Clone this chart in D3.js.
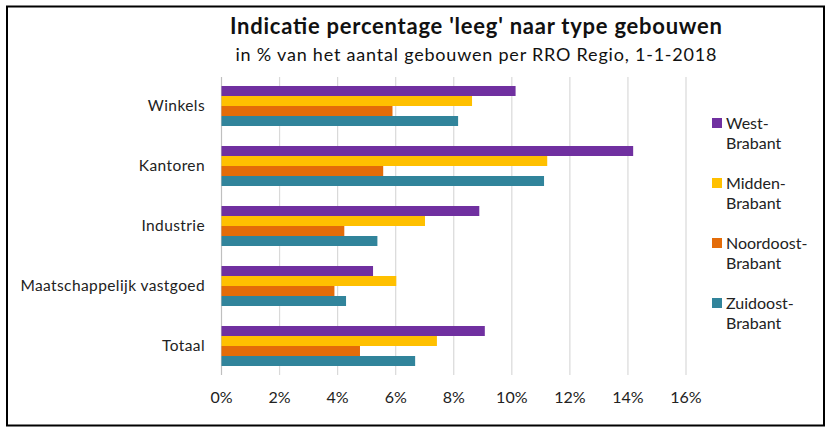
<!DOCTYPE html>
<html><head><meta charset="utf-8">
<script src="https://cdn.jsdelivr.net/npm/d3@7"></script>
<style>
body{margin:0;background:#fff;}
svg{font-family:Lato,"Open Sans",sans-serif;}
</style></head><body>
<svg id="c" width="832" height="432"></svg>
<script>
const categories = ["Winkels","Kantoren","Industrie","Maatschappelijk vastgoed","Totaal"];
const seriesNames = ["West-Brabant","Midden-Brabant","Noordoost-Brabant","Zuidoost-Brabant"];
const legendLines = [["West-","Brabant"],["Midden-","Brabant"],["Noordoost-","Brabant"],["Zuidoost-","Brabant"]];
const westBrabant = [10.13, 14.18, 8.88, 5.22, 9.07];
const middenBrabant = [8.63, 11.22, 7.01, 6.02, 7.42];
const noordoostBrabant = [5.89, 5.57, 4.23, 3.89, 4.77];
const zuidoostBrabant = [8.15, 11.11, 5.37, 4.29, 6.67];
const xTicks = [0,2,4,6,8,10,12,14,16];
const colors = ["#7030A0","#FFC000","#E36C09","#31849B"];
const seriesValues = [westBrabant, middenBrabant, noordoostBrabant, zuidoostBrabant];

const svg = d3.select("#c");
svg.append("rect").attr("x",7).attr("y",6.5).attr("width",817).attr("height",419)
  .attr("fill","#fff").attr("stroke","#000").attr("stroke-width",2);

const x = d3.scaleLinear().domain([0,16]).range([221.5,686]);
const y = d3.scaleBand().domain(categories).range([76,376]).paddingInner(1/3).paddingOuter(1/6);
const y1 = d3.scaleBand().domain(seriesNames).range([0,y.bandwidth()]);

// gridlines
svg.append("g").selectAll("line").data(xTicks).join("line")
  .attr("x1",d=>x(d)).attr("x2",d=>x(d)).attr("y1",77).attr("y2",375)
  .attr("stroke",d=>d===0?"#bfbfbf":"#d9d9d9").attr("stroke-width",1.2);

// bars
const g = svg.append("g");
seriesNames.forEach((s,i)=>{
  g.selectAll(null).data(categories).join("rect")
    .attr("x",x(0)).attr("y",(c)=>y(c)+y1(s))
    .attr("width",(c,j)=>x(seriesValues[i][j])-x(0))
    .attr("height",y1.bandwidth())
    .attr("fill",colors[i]);
});

// y labels
svg.append("g").selectAll("text").data(categories).join("text")
  .attr("x",205).attr("y",c=>y(c)+y.bandwidth()/2).attr("dy","0.35em")
  .attr("text-anchor","end").attr("font-size",15.5).attr("letter-spacing",0.4).attr("fill","#222").text(c=>c);

// x labels
svg.append("g").selectAll("text").data(xTicks).join("text")
  .attr("x",d=>x(d)).attr("y",397).attr("dy","0.35em")
  .attr("text-anchor","middle").attr("font-size",16).attr("fill","#222").text(d=>d+"%");

// title
svg.append("text").attr("x",476).attr("y",34).attr("text-anchor","middle")
  .attr("font-size",22).attr("font-weight","bold").attr("fill","#111")
  .attr("textLength",492).attr("lengthAdjust","spacing")
  .text("Indicatie percentage 'leeg' naar type gebouwen");
svg.append("text").attr("x",476).attr("y",61).attr("text-anchor","middle")
  .attr("font-size",18).attr("fill","#111")
  .attr("textLength",481).attr("lengthAdjust","spacing")
  .text("in % van het aantal gebouwen per RRO Regio, 1-1-2018");

// legend
const lg = svg.append("g");
legendLines.forEach((lines,i)=>{
  const cy = 123 + i*60;
  lg.append("rect").attr("x",712).attr("y",cy-5).attr("width",10).attr("height",10).attr("fill",colors[i]);
  lines.forEach((t,k)=>{
    lg.append("text").attr("x",726).attr("y",cy+k*20).attr("dy","0.35em")
      .attr("font-size",16).attr("fill","#222").text(t);
  });
});
</script>
</body></html>
